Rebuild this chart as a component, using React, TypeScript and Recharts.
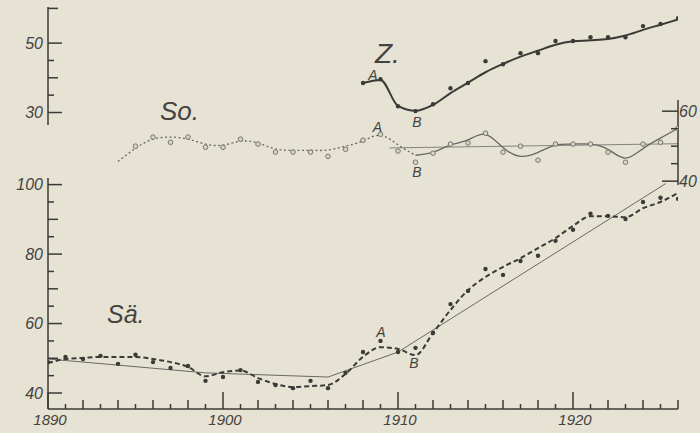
import { LineChart, Line, XAxis, YAxis, ReferenceDot } from 'recharts';

const W = 700;
const H = 433;
const PAPER = '#e6e2d4';
const INK = '#3c3a36';
const SOFT = '#6a6863';
const FONT = '"Liberation Sans", "DejaVu Sans", sans-serif';
const X_DOMAIN: [number, number] = [1890, 1926];

// bottom axis: a tick every year, decades labelled
const yearTicks = [
  1890, 1891, 1892, 1893, 1894, 1895, 1896, 1897, 1898, 1899, 1900, 1901, 1902,
  1903, 1904, 1905, 1906, 1907, 1908, 1909, 1910, 1911, 1912, 1913, 1914, 1915,
  1916, 1917, 1918, 1919, 1920, 1921, 1922, 1923, 1924, 1925, 1926,
];
const yearLabels = [1890, 1900, 1910, 1920];

// Z. (top panel, left scale)
const zTicks = [30, 35, 40, 45, 50, 60];
const zLabels = [30, 50];
const zYears = [
  1908, 1909, 1910, 1911, 1912, 1913, 1914, 1915, 1916, 1917, 1918, 1919, 1920,
  1921, 1922, 1923, 1924, 1925, 1926,
];
const zObserved = [
  38.5, 39.6, 31.8, 30.4, 32.4, 37.0, 38.5, 44.8, 43.9, 47.1, 47.1, 50.6, 50.6,
  51.7, 51.7, 51.7, 54.9, 55.5, 57.2,
];
const zSmoothed = [
  38.5, 39.4, 31.9, 30.5, 32.2, 35.6, 38.6, 41.6, 44.0, 46.1, 47.8, 49.5, 50.5,
  50.8, 51.2, 52.2, 53.8, 55.3, 56.8,
];

// So. (middle panel, right scale)
const soTicks = [40, 45, 50, 55, 60];
const soLabels = [40, 60];
const soYears = [
  1894, 1895, 1896, 1897, 1898, 1899, 1900, 1901, 1902, 1903, 1904, 1905, 1906,
  1907, 1908, 1909, 1910, 1911, 1912, 1913, 1914, 1915, 1916, 1917, 1918, 1919,
  1920, 1921, 1922, 1923, 1924, 1925, 1926,
];
const soObsYears = soYears.slice(1);
const soObserved = [
  50.0, 52.6, 51.1, 52.6, 49.7, 49.7, 52.0, 50.6, 48.3, 48.3, 48.3, 47.1, 49.1,
  51.7, 53.4, 48.6, 45.4, 48.0, 50.6, 50.9, 53.7, 48.3, 50.0, 46.0, 50.6, 50.6,
  50.6, 48.3, 45.4, 50.6, 51.1, 55.1,
];
const soSmoothed = [
  45.6, 49.4, 52.0, 52.6, 52.0, 50.6, 50.3, 51.4, 50.9, 49.2, 48.8, 48.8, 48.9,
  50.0, 51.5, 53.1, 50.4, 47.4, 48.3, 50.3, 51.8, 53.4, 49.6, 47.1, 48.2, 50.3,
  50.6, 50.6, 49.1, 46.6, 49.3, 52.3, 55.1,
];
const soTrendYears = [1909.5, 1926];
const soTrend = [49.5, 50.7];

// Sä. (bottom panel, left scale)
const saTicks = [40, 45, 50, 55, 60, 65, 70, 75, 80, 85, 90, 95, 100];
const saLabels = [40, 60, 80, 100];
const saYears = yearTicks;
const saObserved = [
  48.9, 50.4, 49.8, 50.7, 48.4, 51.0, 48.9, 47.2, 47.8, 43.5, 44.6, 46.6, 43.2,
  42.3, 41.4, 43.5, 41.4, 45.8, 51.8, 55.0, 51.8, 53.0, 57.3, 65.6, 69.4, 75.7,
  74.0, 78.0, 79.5, 83.8, 87.0, 91.6, 91.0, 90.1, 95.0, 96.2, 95.9,
];
const saSmoothed = [
  48.6, 49.8, 50.1, 50.4, 50.4, 50.4, 49.8, 48.9, 47.5, 44.8, 46.0, 46.5, 44.3,
  42.6, 41.7, 42.0, 42.3, 45.5, 50.4, 53.2, 52.7, 50.9, 57.3, 63.9, 69.6, 73.4,
  76.3, 78.8, 81.7, 84.6, 88.1, 90.9, 90.9, 90.6, 93.2, 95.0, 97.6,
];
const saTrendYears = [1890, 1899, 1906, 1910, 1925.3];
const saTrend = [49.8, 45.8, 44.6, 51.8, 100.3];

const pairs = (xs: number[], ys: number[]) => xs.map((year, i) => ({ year, value: ys[i] }));

// axis positions in px (plot edges)
const LEFT_X = 48;
const RIGHT_X = 678;
const BOTTOM_Y = 409;

const textStyle = {
  fontFamily: FONT,
  fontStyle: 'italic' as const,
  fill: '#45433f',
};
const axisLine = { stroke: INK, strokeWidth: 1.5 };
const mark = { fill: INK };

const yearLen = (yr: number) => (yr % 10 === 0 ? 17 : yr % 2 === 0 ? 9 : 5);
const valueLen = (labels: number[], v: number) => (labels.includes(v) ? 14 : v % 10 === 0 ? 10 : 6);

// ticks point inwards, labels sit outside
function YearTick(p: any) {
  const yr = Number(p.payload.value);
  const x = Number(p.x);
  const len = yearLen(yr);
  return (
    <g>
      <rect x={x - 0.75} y={BOTTOM_Y - len} width={1.5} height={len} {...mark} />
      {yearLabels.includes(yr) && (
        <text x={x + 2} y={BOTTOM_Y + 16} textAnchor="middle" fontSize={15} {...textStyle}>
          {yr}
        </text>
      )}
    </g>
  );
}

const leftTick = (labels: number[]) => (p: any) => {
  const v = Number(p.payload.value);
  const y = Number(p.y);
  const len = valueLen(labels, v);
  return (
    <g>
      <rect x={LEFT_X} y={y - 0.75} width={len} height={1.5} {...mark} />
      {labels.includes(v) && (
        <text x={LEFT_X - 5} y={y + 5.5} textAnchor="end" fontSize={16} {...textStyle}>
          {v}
        </text>
      )}
    </g>
  );
};

const rightTick = (labels: number[]) => (p: any) => {
  const v = Number(p.payload.value);
  const y = Number(p.y);
  const len = labels.includes(v) ? 16 : 7;
  return (
    <g>
      <rect x={RIGHT_X - len} y={y - 0.75} width={len} height={1.5} {...mark} />
      {labels.includes(v) && (
        <text x={RIGHT_X + 1} y={y + 5.5} textAnchor="start" fontSize={16} {...textStyle}>
          {v}
        </text>
      )}
    </g>
  );
};

// text placed next to a data point
const note = (text: string, dx: number, dy: number, size: number, anchor = 'middle') =>
  (props: any) => {
    const vb = props.viewBox;
    return (
      <text x={vb.x + dx} y={vb.y + dy} fontSize={size} textAnchor={anchor} {...textStyle}>
        {text}
      </text>
    );
  };

const noDot = { r: 0, fill: 'none', stroke: 'none' };
const layer = { position: 'absolute' as const, left: 0, top: 0 };

export default function App() {
  return (
    <div style={{ position: 'absolute', left: 0, top: 0, width: W, height: H, background: PAPER }}>
      {/* Sä. */}
      <div style={layer}>
        <LineChart width={W} height={H} margin={{ top: 178, right: 22, bottom: 0, left: 0 }}>
          <XAxis
            dataKey="year"
            type="number"
            domain={X_DOMAIN}
            ticks={yearTicks}
            interval={0}
            height={24}
            tickLine={false}
            axisLine={axisLine}
            tick={YearTick}
            allowDataOverflow
          />
          <YAxis
            type="number"
            domain={[35.4, 101.9]}
            ticks={saTicks}
            interval={0}
            width={48}
            tickLine={false}
            axisLine={axisLine}
            tick={leftTick(saLabels)}
            allowDataOverflow
          />
          <Line data={pairs(saTrendYears, saTrend)} dataKey="value" type="linear" stroke={SOFT} strokeWidth={1} dot={false} activeDot={false} isAnimationActive={false} />
          <Line data={pairs(saYears, saSmoothed)} dataKey="value" type="monotone" stroke={INK} strokeWidth={2} strokeDasharray="5 3" dot={false} activeDot={false} isAnimationActive={false} />
          <Line data={pairs(saYears, saObserved)} dataKey="value" stroke="none" dot={{ r: 2.2, fill: INK, stroke: 'none' }} activeDot={false} isAnimationActive={false} />
          <ReferenceDot {...noDot} x={1893} y={saObserved[3]} label={note('Sä.', 6.5, -33, 25, 'start')} />
          <ReferenceDot {...noDot} x={1909} y={saObserved[19]} label={note('A', 0.5, -4, 14)} />
          <ReferenceDot {...noDot} x={1911} y={saObserved[21]} label={note('B', -1.5, 20, 14)} />
        </LineChart>
      </div>

      {/* So. */}
      <div style={layer}>
        <LineChart width={W} height={H} margin={{ top: 100, right: 0, bottom: 248, left: 48 }}>
          <XAxis dataKey="year" type="number" domain={X_DOMAIN} hide allowDataOverflow />
          <YAxis
            orientation="right"
            type="number"
            domain={[38.9, 63.2]}
            ticks={soTicks}
            interval={0}
            width={22}
            tickLine={false}
            axisLine={axisLine}
            tick={rightTick(soLabels)}
            allowDataOverflow
          />
          <Line data={pairs(soTrendYears, soTrend)} dataKey="value" type="linear" stroke="#85837e" strokeWidth={1} dot={false} activeDot={false} isAnimationActive={false} />
          <Line data={pairs(soYears.slice(0, 18), soSmoothed.slice(0, 18))} dataKey="value" type="natural" stroke={SOFT} strokeWidth={1.3} strokeDasharray="2 2.5" dot={false} activeDot={false} isAnimationActive={false} />
          <Line data={pairs(soYears.slice(17), soSmoothed.slice(17))} dataKey="value" type="natural" stroke={SOFT} strokeWidth={1.3} dot={false} activeDot={false} isAnimationActive={false} />
          <Line data={pairs(soObsYears, soObserved)} dataKey="value" stroke="none" dot={{ r: 2.3, fill: '#d8d4c6', stroke: '#77756f', strokeWidth: 1 }} activeDot={false} isAnimationActive={false} />
          <ReferenceDot {...noDot} x={1896} y={soObserved[1]} label={note('So.', 7, -17, 26, 'start')} />
          <ReferenceDot {...noDot} x={1909} y={soObserved[14]} label={note('A', -3, -2, 14)} />
          <ReferenceDot {...noDot} x={1911} y={soObserved[16]} label={note('B', 1.5, 15, 14)} />
        </LineChart>
      </div>

      {/* Z. */}
      <div style={layer}>
        <LineChart width={W} height={H} margin={{ top: 7, right: 22, bottom: 308, left: 0 }}>
          <XAxis dataKey="year" type="number" domain={X_DOMAIN} hide allowDataOverflow />
          <YAxis
            type="number"
            domain={[26.4, 60.4]}
            ticks={zTicks}
            interval={0}
            width={48}
            tickLine={false}
            axisLine={axisLine}
            tick={leftTick(zLabels)}
            allowDataOverflow
          />
          <Line data={pairs(zYears, zSmoothed)} dataKey="value" type="monotone" stroke={INK} strokeWidth={2} dot={false} activeDot={false} isAnimationActive={false} />
          <Line data={pairs(zYears, zObserved)} dataKey="value" stroke="none" dot={{ r: 2.2, fill: INK, stroke: 'none' }} activeDot={false} isAnimationActive={false} />
          <ReferenceDot {...noDot} x={1909} y={zObserved[1]} label={note('Z.', -5.5, -16, 28, 'start')} />
          <ReferenceDot {...noDot} x={1909} y={zObserved[1]} label={note('A', -7.5, 1, 14)} />
          <ReferenceDot {...noDot} x={1911} y={zObserved[3]} label={note('B', 1.5, 16, 14)} />
        </LineChart>
      </div>
    </div>
  );
}
